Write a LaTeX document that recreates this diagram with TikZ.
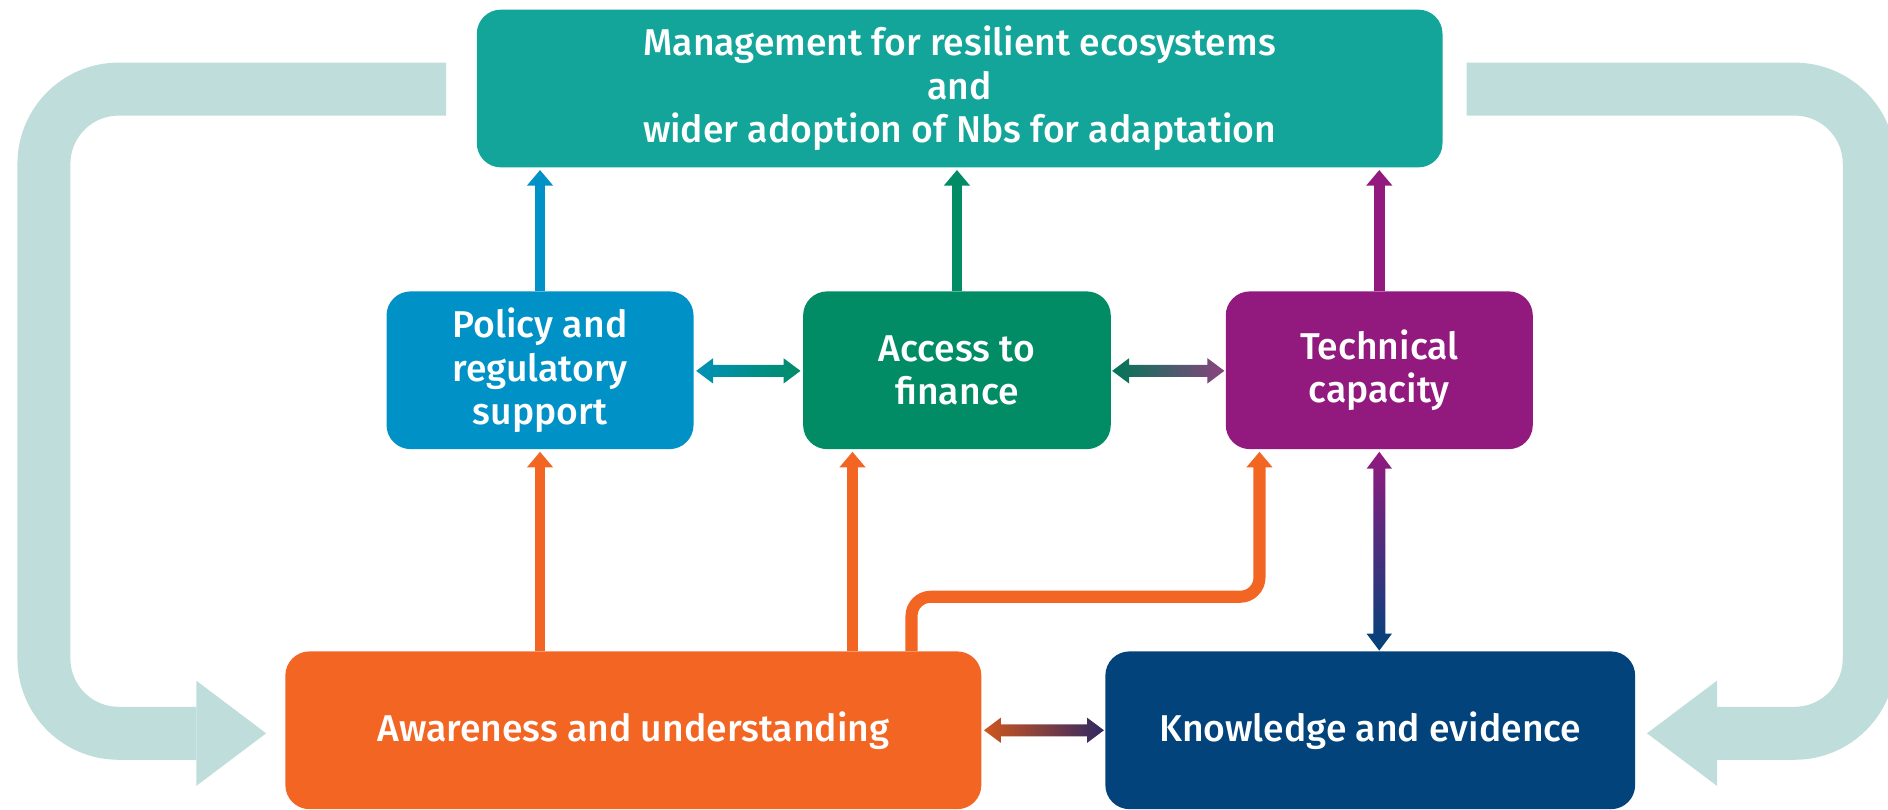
\documentclass[tikz,border=0pt]{standalone}
\usepackage{fontspec}
\setmainfont{Fira Sans}[UprightFont={* Medium}]
\usetikzlibrary{arrows.meta,calc}
\definecolor{cTop}{HTML}{13A49A}
\definecolor{cBand}{HTML}{BFDDDA}
\definecolor{cPol}{HTML}{0092C6}
\definecolor{cAcc}{HTML}{018C66}
\definecolor{cTech}{HTML}{921A7F}
\definecolor{cAw}{HTML}{F36523}
\definecolor{cKn}{HTML}{02437B}
\newcommand\hgarrow[4]{%
  \shade[left color=#3,right color=#4] let \p1=(#1),\p2=(#2) in
    (\x1,\y1) -- (\x1+14pt,\y1+10.5pt) -- (\x1+14pt,\y1+5pt) -- (\x2-14pt,\y2+5pt)
    -- (\x2-14pt,\y2+10.5pt) -- (\x2,\y2) -- (\x2-14pt,\y2-10.5pt) -- (\x2-14pt,\y2-5pt)
    -- (\x1+14pt,\y1-5pt) -- (\x1+14pt,\y1-10.5pt) -- cycle;}
\newcommand\vgarrow[4]{%
  \shade[top color=#3,bottom color=#4] let \p1=(#1),\p2=(#2) in
    (\x1,\y1) -- (\x1+10.5pt,\y1-14pt) -- (\x1+5pt,\y1-14pt) -- (\x2+5pt,\y2+14pt)
    -- (\x2+10.5pt,\y2+14pt) -- (\x2,\y2) -- (\x2-10.5pt,\y2+14pt) -- (\x2-5pt,\y2+14pt)
    -- (\x1-5pt,\y1-14pt) -- (\x1-10.5pt,\y1-14pt) -- cycle;}
\begin{document}
\begin{tikzpicture}[x=1pt,y=-1pt,
  box/.style={rounded corners=20pt, inner sep=0pt, text=white, align=center,
    font=\fontsize{31}{36}\selectfont},
  band/.style={draw=cBand, line width=44pt, rounded corners=62pt},
  bandhead/.style={fill=cBand},
  uparrow/.style={line width=9pt, -{Triangle[width=21pt,length=13pt]}}]
\useasboundingbox (0,0) rectangle (1568,672);
% nodes
\node[box, fill=cTop, minimum width=802pt, minimum height=131pt] (top) at (797,73.5)
  {Management for resilient ecosystems\\and\\wider adoption of Nbs for adaptation};
\node[box, fill=cPol, minimum width=255pt, minimum height=131pt] (pol) at (448.5,307.5)
  {Policy and\\regulatory\\support};
\node[box, fill=cAcc, minimum width=255.5pt, minimum height=131pt] (acc) at (794.75,307.5)
  {Access to\\finance};
\node[box, fill=cTech, minimum width=255pt, minimum height=131pt] (tech) at (1145.5,307.5)
  {Technical\\capacity};
\node[box, fill=cAw, minimum width=578pt, minimum height=131pt] (aw) at (526,606.5)
  {Awareness and understanding};
\node[box, fill=cKn, minimum width=440pt, minimum height=131pt] (kn) at (1138,606.5)
  {Knowledge and evidence};
% helper coordinates
\coordinate (xa) at (708,0);
\coordinate (xb) at (757,0);
\coordinate (xc) at (1046,0);
\coordinate (bendy) at (0,495.6);
\coordinate (lbs) at (370.6,74);
\coordinate (lbc1) at (36.5,74);
\coordinate (lbc2) at (36.5,609);
\coordinate (lbe) at (163,609);
\coordinate (rbs) at (1218,74);
\coordinate (rbc1) at (1552.4,74);
\coordinate (rbc2) at (1552.4,609);
\coordinate (rbe) at (1426,609);
% feedback bands
\draw[band] (lbs) -- (lbc1) -- (lbc2) -- (lbe);
\fill[bandhead] ($(lbe)+(0,-43.7)$) -- ($(lbe)+(58,0)$) -- ($(lbe)+(0,43.7)$) -- cycle;
\draw[band] (rbs) -- (rbc1) -- (rbc2) -- (rbe);
\fill[bandhead] ($(rbe)+(0,-43.7)$) -- ($(rbe)+(-58.2,0)$) -- ($(rbe)+(0,43.7)$) -- cycle;
% arrows to top
\draw[uparrow, cPol] (pol.north) -- ($(pol.north |- top.south)+(0,2)$);
\draw[uparrow, cAcc] (acc.north) -- ($(acc.north |- top.south)+(0,2)$);
\draw[uparrow, cTech] (tech.north) -- ($(tech.north |- top.south)+(0,2)$);
% orange arrows
\draw[uparrow, cAw] (aw.north -| pol.south) -- ($(pol.south)+(0,2)$);
\draw[uparrow, cAw] (aw.north -| xa) -- ($(acc.south -| xa)+(0,2)$);
\draw[uparrow, cAw, line width=10pt, rounded corners=16pt]
  (aw.north -| xb) -- (bendy -| xb) -- (bendy -| xc) -- ($(tech.south -| xc)+(0,2)$);
% gradient double arrows
\hgarrow{$(pol.east)+(2,0.5)$}{$(acc.west)+(-2,0.5)$}{cPol!85!cAcc}{cAcc}
\hgarrow{$(acc.east)+(1,0.5)$}{$(tech.west)+(-1,0.5)$}{cAcc!85!black}{cTech!60!gray}
\hgarrow{$(aw.east)+(2,0)$}{$(kn.west)+(-1,0)$}{cAw!85!black}{cKn!60!cTech!80!black}
\vgarrow{$(tech.south)+(0,2)$}{$(tech.south |- kn.north)+(0,-0.5)$}{cTech}{cKn}
\end{tikzpicture}
\end{document}
